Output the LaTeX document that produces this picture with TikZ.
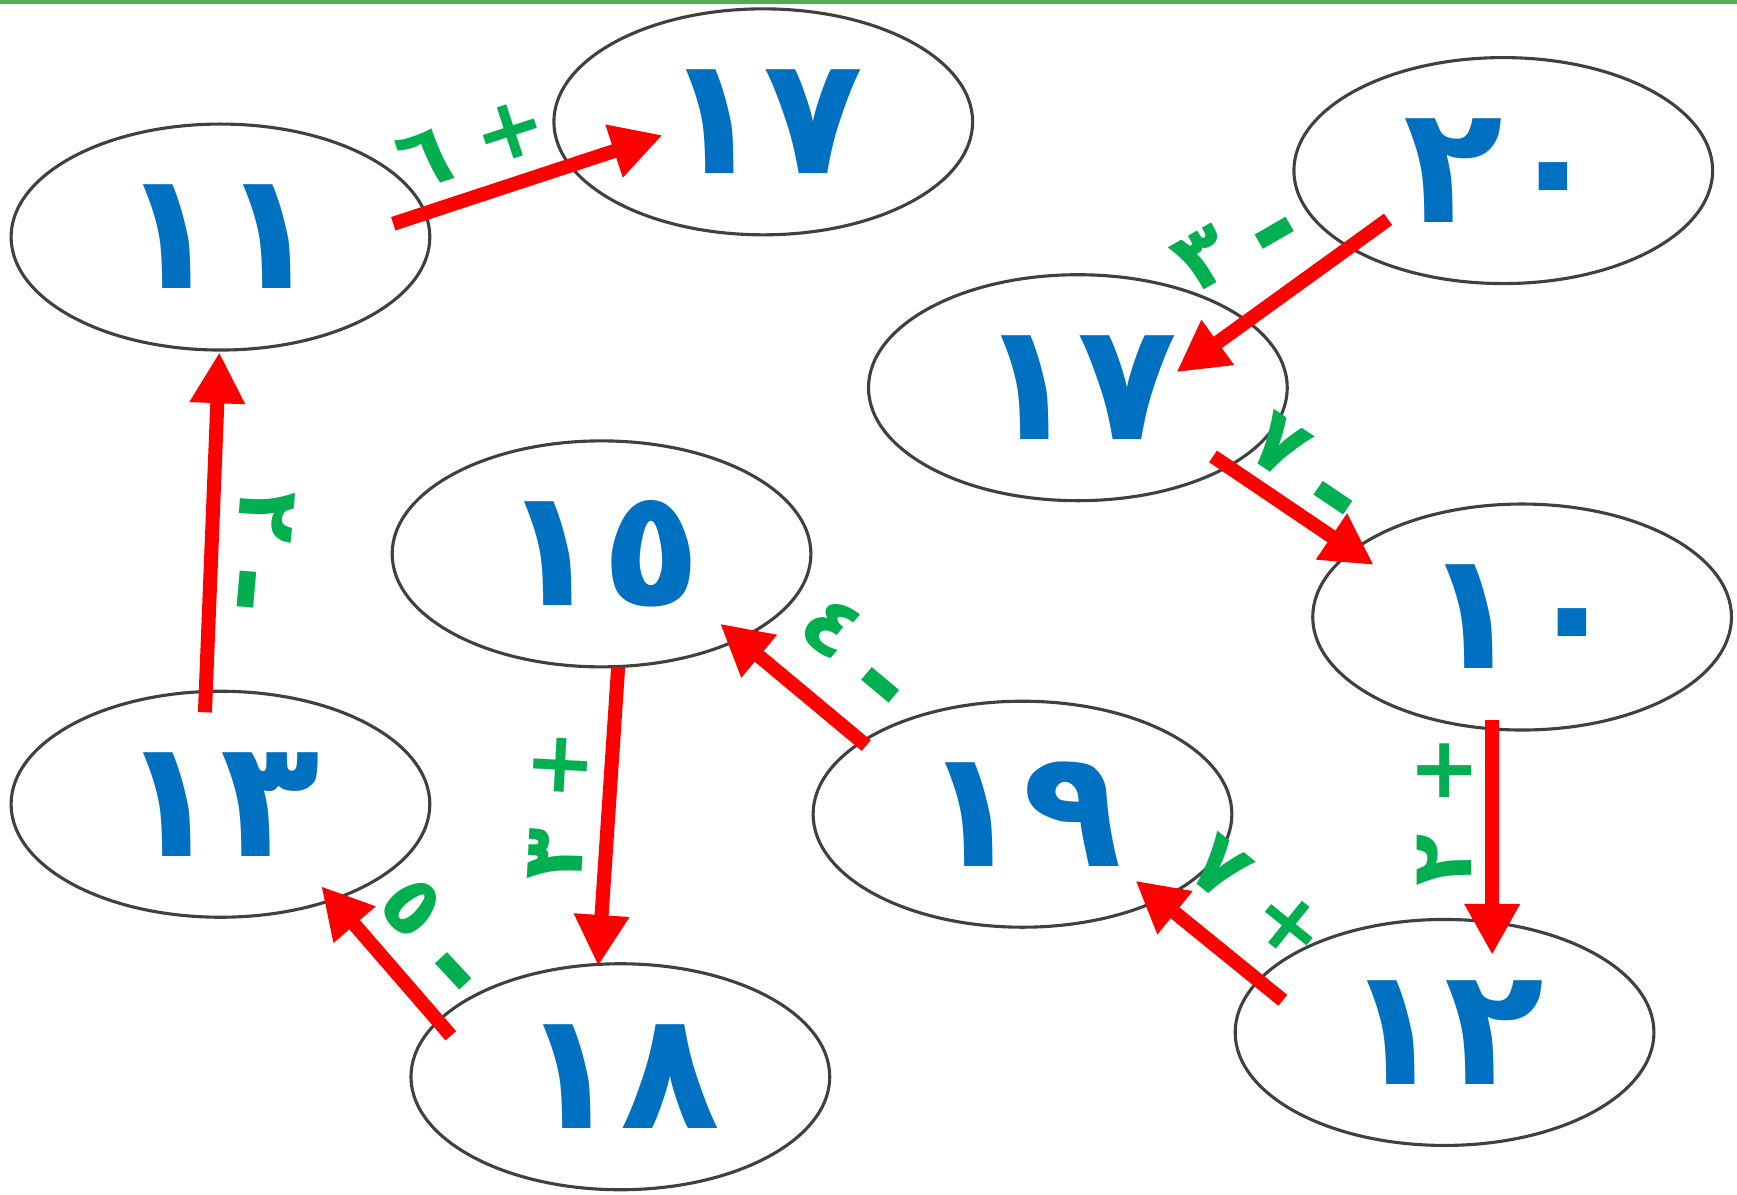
\documentclass[tikz,border=0pt]{standalone}
\usepackage{fontspec}
\usepackage{xcolor}
\usepackage{tikz}
\usetikzlibrary{shapes,arrows.meta}
\newfontfamily\arabicfont[Script=Arabic]{DejaVu Sans}
\definecolor{numblue}{RGB}{0,112,192}
\definecolor{stepgreen}{RGB}{0,176,80}
\definecolor{edgegreen}{RGB}{76,175,80}
\newcommand{\sub}{\raisebox{-0.18cm}{\fontsize{30}{30}\selectfont -}}
\tikzstyle{bubble} = [ellipse, draw=black!75, line width=0.8pt, minimum width=3.78cm, minimum height=2.04cm, text=numblue, font=\arabicfont\bfseries\fontsize{42}{44}\selectfont]
\tikzstyle{line} = [draw, red, line width=3.6pt, -{Triangle[length=0.46cm,width=0.47cm]}]
\tikzstyle{op} = [text=stepgreen, font=\arabicfont\bfseries\fontsize{22}{24}\selectfont]

\begin{document}
\begin{tikzpicture}
\useasboundingbox (0,0) rectangle (15.68,-10.78);
\draw[edgegreen, line width=1pt] (0,-0.015) -- (15.68,-0.015);
%
\node[bubble] (n11) at (1.99,-2.14) {١١};
\node[bubble] (n17a) at (6.89,-1.10) {١٧};
\node[bubble] (n20) at (13.57,-1.54) {٢٠};
\node[bubble] (n17b) at (9.73,-3.50) {١٧};
\node[bubble] (n15) at (5.43,-5.00) {١٥};
\node[bubble] (n10) at (13.74,-5.57) {١٠};
\node[bubble] (n13) at (1.99,-7.26) {١٣};
\node[bubble] (n19) at (9.23,-7.35) {١٩};
\node[bubble] (n12) at (13.04,-9.32) {١٢};
\node[bubble] (n18) at (5.60,-9.72) {١٨};
%
\draw[line] ([shift={(1.56,0.12)}]n11.center) -- ([shift={(-0.91,-0.12)}]n17a.center);
\draw[line] ([shift={(-1.04,-0.44)}]n20.center) -- ([shift={(0.89,0.14)}]n17b.center);
\draw[line] ([shift={(1.22,-0.62)}]n17b.center) -- ([shift={(-1.34,0.47)}]n10.center);
\draw[line] ([shift={(-0.27,-0.93)}]n10.center) -- ([shift={(0.43,0.70)}]n12.center);
\draw[line] ([shift={(-1.46,0.29)}]n12.center) -- ([shift={(1.02,-0.60)}]n19.center);
\draw[line] ([shift={(-1.41,0.62)}]n19.center) -- ([shift={(1.07,-0.63)}]n15.center);
\draw[line] ([shift={(0.15,-1.02)}]n15.center) -- ([shift={(-0.20,1.00)}]n18.center);
\draw[line] ([shift={(-1.53,0.37)}]n18.center) -- ([shift={(0.91,-0.74)}]n13.center);
\draw[line] ([shift={(-0.14,0.83)}]n13.center) -- ([shift={(-0.01,-1.04)}]n11.center);
%
\node[op, rotate=18] (l1) at (4.26,-1.30) {٦\hspace{0.25cm}+};
\node[op, rotate=30] (l2) at (11.19,-2.25) {٣\hspace{0.22cm}\sub};
\node[op, rotate=-34] (l3) at (11.77,-4.28) {٧\hspace{0.22cm}\sub};
\node[op, rotate=90] (l4) at (13.04,-7.32) {٢\hspace{0.25cm}+};
\node[op, rotate=-39] (l5) at (11.36,-8.12) {٧\hspace{0.25cm}+};
\node[op, rotate=-40] (l6) at (7.71,-5.94) {٤\hspace{0.22cm}\sub};
\node[op, rotate=87] (l7) at (5.04,-7.27) {٣\hspace{0.25cm}+};
\node[op, rotate=-47] (l8) at (3.88,-8.49) {٥\hspace{0.22cm}\sub};
\node[op, rotate=-95] (l9) at (2.29,-4.98) {٢\hspace{0.22cm}\sub};
\end{tikzpicture}
\end{document}
